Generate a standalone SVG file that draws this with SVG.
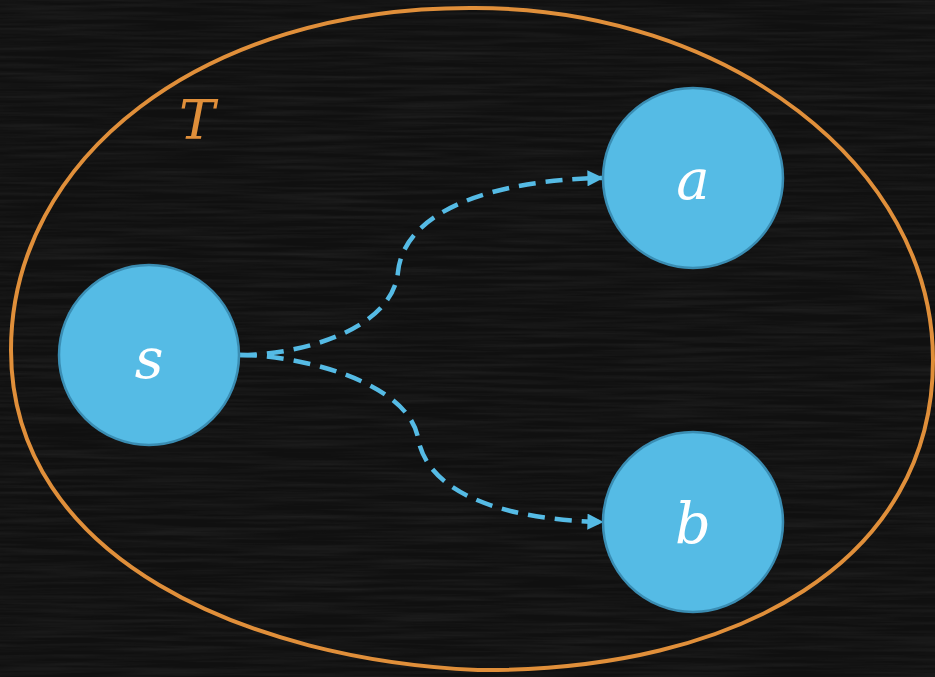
<svg xmlns="http://www.w3.org/2000/svg" width="935" height="677" viewBox="0 0 935 677">
<style>
.node{fill:#55bbe5;stroke:#3a8db3;stroke-width:2.5}
.lbl{font-family:"DejaVu Serif","Liberation Serif",serif;font-style:italic;font-size:56px;fill:#ffffff;text-anchor:middle}
.edge{fill:none;stroke:#55bbe5;stroke-width:4.5;stroke-dasharray:17 10;marker-end:url(#arr)}
</style>
<defs>
<marker id="arr" viewBox="0 0 10 10" refX="9" refY="5" markerWidth="4" markerHeight="3.6" markerUnits="strokeWidth" orient="auto">
<path d="M0,0 L10,5 L0,10 Z" fill="#55bbe5"/>
</marker>
<filter id="tex" x="0" y="0" width="100%" height="100%">
<feTurbulence type="fractalNoise" baseFrequency="0.008 0.25" numOctaves="3" seed="7"/>
<feColorMatrix values="0 0 0 0 1  0 0 0 0 1  0 0 0 0 1  0.3 0 0 0 -0.1"/>
</filter>
</defs>
<rect width="935" height="677" fill="#101010"/>
<rect width="935" height="677" filter="url(#tex)" opacity="0.35"/>
<g id="region-T">
<path d="M475,8 C727,8 933,166 933,360 C933,560 740,672 478,670 C250,660 11,560 11,350 C11,160 200,6 475,8 Z" fill="none" stroke="#e08f3a" stroke-width="4"/>
<text x="197" y="139" font-family="DejaVu Serif,Liberation Serif,serif" font-style="italic" font-size="54" fill="#e08f3a" text-anchor="middle">T</text>
</g>
<g id="edges">
<path class="edge" d="M240,355 C300,355 392,330 398,272 C404,212 490,180 602,178"/>
<path class="edge" d="M240,355 C300,355 408,382 418,438 C428,496 510,520 602,522"/>
</g>
<g id="node-s">
<circle class="node" cx="149" cy="355" r="90"/>
<text class="lbl" x="149" y="378">s</text>
</g>
<g id="node-a">
<circle class="node" cx="693" cy="178" r="90"/>
<text class="lbl" x="693" y="199">a</text>
</g>
<g id="node-b">
<circle class="node" cx="693" cy="522" r="90"/>
<text class="lbl" x="693" y="543">b</text>
</g>
</svg>
